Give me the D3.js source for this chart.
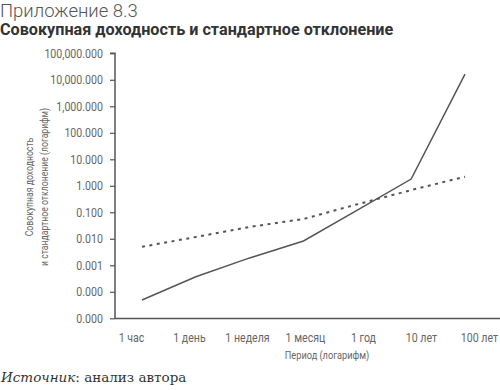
<!DOCTYPE html>
<html>
<head>
<meta charset="utf-8">
<script src="https://cdn.jsdelivr.net/npm/d3@7"></script>
<style>
  body { margin: 0; background: #fff; }
  svg { display: block; }
  .cond { font-family: "Roboto", sans-serif; }
</style>
</head>
<body>
<div id="chart"></div>
<script>
// Data
const periods = ["1 час", "1 день", "1 неделя", "1 месяц", "1 год", "10 лет", "100 лет"]
const totalReturn = [0.000049, 0.00037, 0.0019, 0.0083, 0.12, 1.8, 16500]
const stdDev = [0.0050, 0.0117, 0.028, 0.056, 0.20, 0.69, 2.2]
const yTicks = [1e5, 1e4, 1e3, 1e2, 1e1, 1, 0.1, 0.01, 0.001, 0.0001, 0.00001]

function drawChart() {
    const dimensions = {
        width: 500,
        height: 390,
        margins: { top: 53, right: 0, left: 115, bottom: 72 }
    }

    // condensed look: squeeze text horizontally
    const squeeze = 0.85

    const wrapper = d3.select("#chart").append("svg")
        .attr("width", dimensions.width)
        .attr("height", dimensions.height)

    // Titles
    wrapper.append("text")
        .attr("x", 0).attr("y", 17)
        .style("font-family", "Roboto, sans-serif")
        .style("font-weight", 300)
        .style("font-size", "18.5px")
        .attr("fill", "#555")
        .text("Приложение 8.3")

    wrapper.append("text")
        .attr("x", 0).attr("y", 35)
        .style("font-family", "Roboto, sans-serif")
        .style("font-weight", 700)
        .style("font-size", "16.2px")
        .attr("fill", "#333")
        .text("Совокупная доходность и стандартное отклонение")

    // Scales
    const yScale = d3.scaleLog()
        .domain([1e-5, 1e5])
        .range([318.3, 53.3])

    const xScale = d3.scalePoint()
        .domain(periods)
        .range([142, 465])

    // label positions along the bottom
    const xLabelScale = d3.scalePoint()
        .domain(periods)
        .range([131, 479])

    // Y axis
    const yAxisGenerator = d3.axisLeft(yScale)
        .tickValues(yTicks)
        .tickFormat(d3.format(",.3f"))
        .tickSize(5)

    const yAxis = wrapper.append("g")
        .attr("transform", `translate(${dimensions.margins.left},0)`)
        .call(yAxisGenerator)
    yAxis.select(".domain")
        .attr("stroke", "#555")
        .attr("stroke-width", 1.5)
        .attr("d", "M-5,53.3H0V319")
    yAxis.selectAll(".tick line").attr("stroke", "#555").attr("stroke-width", 1.2)
    yAxis.selectAll(".tick text")
        .attr("class", "cond")
        .attr("x", 0)
        .attr("transform", `translate(-12,0) scale(${squeeze},1)`)
        .attr("fill", "#666")
        .style("font-size", "12.5px")

    // X axis
    const xAxisGenerator = d3.axisBottom(xLabelScale)
        .tickSize(0)
        .tickPadding(15)
    const xAxis = wrapper.append("g")
        .attr("transform", "translate(0,318.5)")
        .call(xAxisGenerator)
    xAxis.select(".domain")
        .attr("stroke", "#555")
        .attr("stroke-width", 1.5)
        .attr("d", "M115,0H500")
    xAxis.selectAll(".tick text")
        .attr("class", "cond")
        .attr("transform", `scale(${squeeze},1)`)
        .attr("fill", "#666")
        .style("font-size", "12.5px")

    // Axis titles
    wrapper.append("text")
        .attr("class", "cond")
        .attr("transform", "translate(327,359) scale(0.8,1)")
        .attr("text-anchor", "middle")
        .attr("fill", "#666")
        .style("font-size", "11.5px")
        .text("Период (логарифм)")

    const yTitle = wrapper.append("text")
        .attr("class", "cond")
        .attr("transform", "translate(0,187) rotate(-90) scale(0.79,1)")
        .attr("text-anchor", "middle")
        .attr("fill", "#666")
        .style("font-size", "11px")
    yTitle.append("tspan").attr("x", 0).attr("y", 33).text("Совокупная доходность")
    yTitle.append("tspan").attr("x", 0).attr("y", 48).text("и стандартное отклонение (логарифм)")

    // Lines
    const lineGenerator = d3.line()
        .x((d, i) => xScale(periods[i]))
        .y(d => yScale(d))

    wrapper.append("path")
        .attr("d", lineGenerator(stdDev))
        .attr("fill", "none")
        .attr("stroke", "#555")
        .attr("stroke-width", 2)
        .attr("stroke-dasharray", "3,4.5")

    wrapper.append("path")
        .attr("d", lineGenerator(totalReturn))
        .attr("fill", "none")
        .attr("stroke", "#555")
        .attr("stroke-width", 1.5)

    // Source
    const source = wrapper.append("text")
        .attr("x", 1).attr("y", 382)
        .style("font-family", "'DejaVu Serif', serif")
        .style("font-size", "13.5px")
        .attr("fill", "#333")
    source.append("tspan").style("font-style", "italic").text("Источник")
    source.append("tspan").text(": анализ автора")
}

drawChart()
</script>
</body>
</html>
